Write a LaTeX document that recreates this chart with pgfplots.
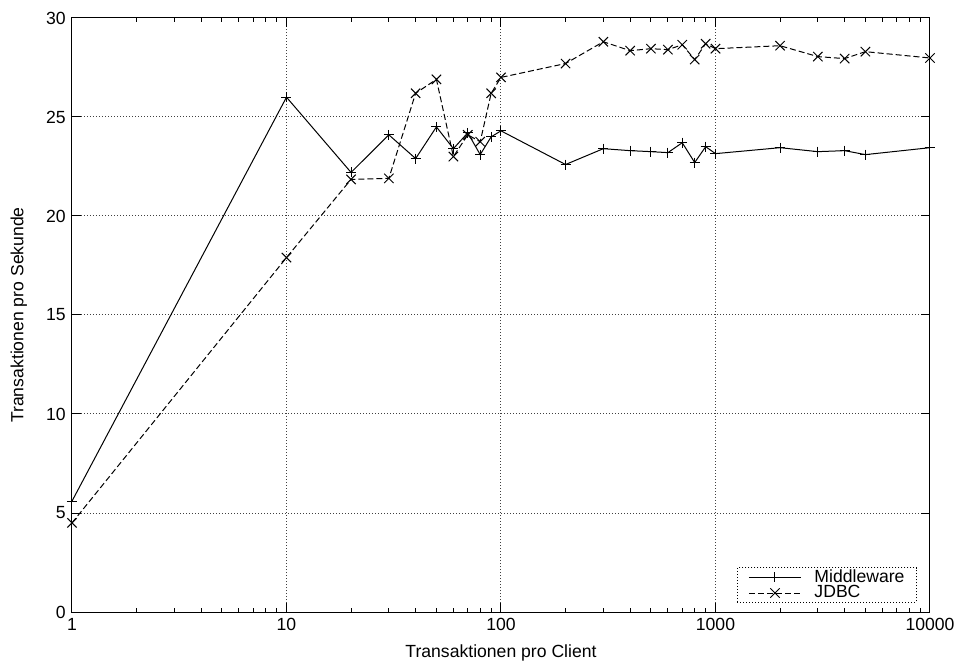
\documentclass[border=0pt]{standalone}
\usepackage{fontspec}
\setmainfont{Liberation Sans}
\usepackage{pgfplots}
\pgfplotsset{compat=1.18}

\begin{document}
\fontsize{8.8}{10.5}\selectfont
\begin{tikzpicture}
\begin{axis}[
  scale only axis,
  width=429pt, height=297pt,
  xmode=log,
  xmin=1, xmax=10000,
  ymin=0, ymax=30,
  xtick={1,10,100,1000,10000},
  xticklabels={1,10,100,1000,10000},
  ytick={0,5,10,15,20,25,30},
  /pgf/number format/assume math mode=true,
  tick align=inside,
  major tick length=4.5pt,
  minor tick length=2.25pt,
  axis line style={line width=0.5pt},
  every tick/.style={black, line width=0.5pt},
  grid=major,
  major grid style={black!75, line width=0.5pt, dash pattern=on 0.5pt off 1pt},
  xlabel={Transaktionen pro Client},
  ylabel={Transaktionen pro Sekunde},
  xlabel style={yshift=-1pt},
  ylabel style={yshift=3.5pt},
  legend cell align=left,
  legend style={at={(1,0)}, anchor=south east, xshift=-6.5pt, yshift=4.5pt,
    draw=black, dash pattern=on 0.5pt off 1pt, line width=0.5pt,
    row sep=-0.75pt, inner xsep=5.5pt, inner ysep=0.5pt,
    nodes={inner sep=0.5pt, solid}},
  legend image code/.code={%
    \draw[mark repeat=2, mark phase=2] plot coordinates {(0pt,0pt) (13pt,0pt) (26pt,0pt)};
    \path (32pt,0pt);},
]
\addplot[black, line width=0.5pt, mark=+, mark size=2.5pt, mark options={solid}] coordinates {
(1,5.6) (10,26.0) (20,22.2) (30,24.1) (40,22.9) (50,24.5) (60,23.4) (70,24.2)
(80,23.1) (90,24.0) (100,24.3) (200,22.6) (300,23.4) (400,23.3) (500,23.25)
(600,23.2) (700,23.7) (800,22.7) (900,23.5) (1000,23.15) (2000,23.45)
(3000,23.25) (4000,23.3) (5000,23.1) (10000,23.45)
};
\addlegendentry{Middleware}
\addplot[black, line width=0.5pt, dash pattern=on 3pt off 1.5pt, mark=x, mark size=3.3pt, mark options={solid}] coordinates {
(1,4.5) (10,17.9) (20,21.85) (30,21.9) (40,26.2) (50,26.9) (60,23.0) (70,24.1)
(80,23.75) (90,26.2) (100,27.0) (200,27.7) (300,28.8) (400,28.35) (500,28.45)
(600,28.4) (700,28.65) (800,27.9) (900,28.7) (1000,28.45) (2000,28.6)
(3000,28.05) (4000,27.95) (5000,28.3) (10000,27.98)
};
\addlegendentry{JDBC}
\end{axis}
\pgfresetboundingbox
\path[use as bounding box] (-36pt,-28pt) rectangle (442.5pt,306pt);
\end{tikzpicture}
\end{document}
